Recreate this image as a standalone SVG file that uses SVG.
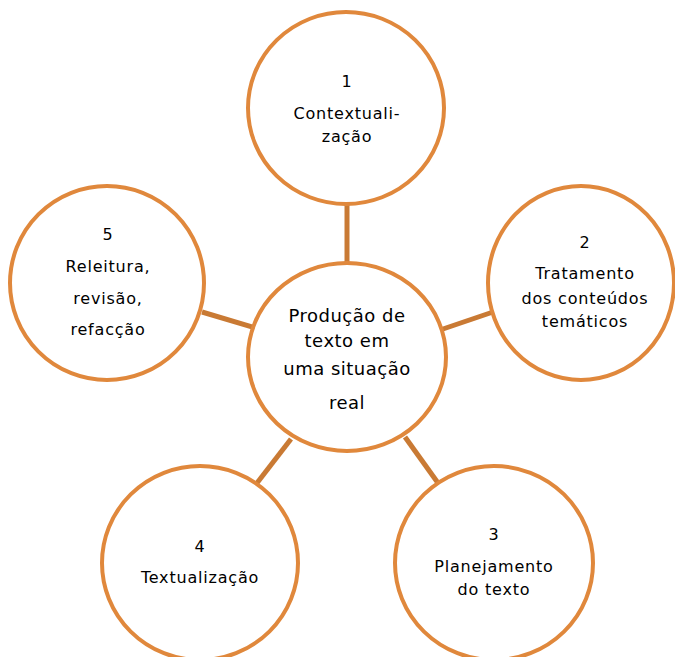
<svg xmlns="http://www.w3.org/2000/svg" width="675" height="657" viewBox="0 0 675 657">
<style>
.c{fill:#fff;stroke:#e0883c;stroke-width:4}
.l{stroke:#c97a34;stroke-width:5;fill:none}
.t{font-family:"DejaVu Sans",sans-serif;font-size:16px;fill:#000;text-anchor:middle;letter-spacing:0.8px}
.m{font-family:"DejaVu Sans",sans-serif;font-size:18px;fill:#000;text-anchor:middle;letter-spacing:0.5px}
</style>
<rect width="675" height="657" fill="#fff"/>
<g id="connectors">
<line class="l" x1="347" y1="203" x2="347" y2="264"/>
<line class="l" x1="440" y1="330" x2="493" y2="312"/>
<line class="l" x1="202" y1="312" x2="256" y2="328"/>
<line class="l" x1="405" y1="437" x2="438" y2="483"/>
<line class="l" x1="291" y1="439" x2="257" y2="483"/>
</g>
<g id="n1">
<ellipse class="c" cx="346" cy="108" rx="98" ry="96"/>
<text class="t" x="347" y="87">1</text>
<text class="t" x="347" y="119">Contextuali-</text>
<text class="t" x="347" y="142">zação</text>
</g>
<g id="center">
<ellipse class="c" cx="347" cy="357" rx="99" ry="94"/>
<text class="m" x="347" y="322">Produção de</text>
<text class="m" x="347" y="347">texto em</text>
<text class="m" x="347" y="375">uma situação</text>
<text class="m" x="347" y="409">real</text>
</g>
<g id="n2">
<ellipse class="c" cx="581" cy="283" rx="93" ry="97"/>
<text class="t" x="585" y="248">2</text>
<text class="t" x="585" y="279">Tratamento</text>
<text class="t" x="585" y="304">dos conteúdos</text>
<text class="t" x="585" y="327">temáticos</text>
</g>
<g id="n3">
<ellipse class="c" cx="494" cy="563" rx="99" ry="97"/>
<text class="t" x="494" y="540">3</text>
<text class="t" x="494" y="572">Planejamento</text>
<text class="t" x="494" y="595">do texto</text>
</g>
<g id="n4">
<ellipse class="c" cx="200" cy="563" rx="98" ry="97"/>
<text class="t" x="200" y="552">4</text>
<text class="t" x="200" y="583">Textualização</text>
</g>
<g id="n5">
<ellipse class="c" cx="107" cy="283" rx="97" ry="97"/>
<text class="t" x="108" y="240">5</text>
<text class="t" x="108" y="272">Releitura,</text>
<text class="t" x="108" y="304">revisão,</text>
<text class="t" x="108" y="335">refacção</text>
</g>
</svg>
